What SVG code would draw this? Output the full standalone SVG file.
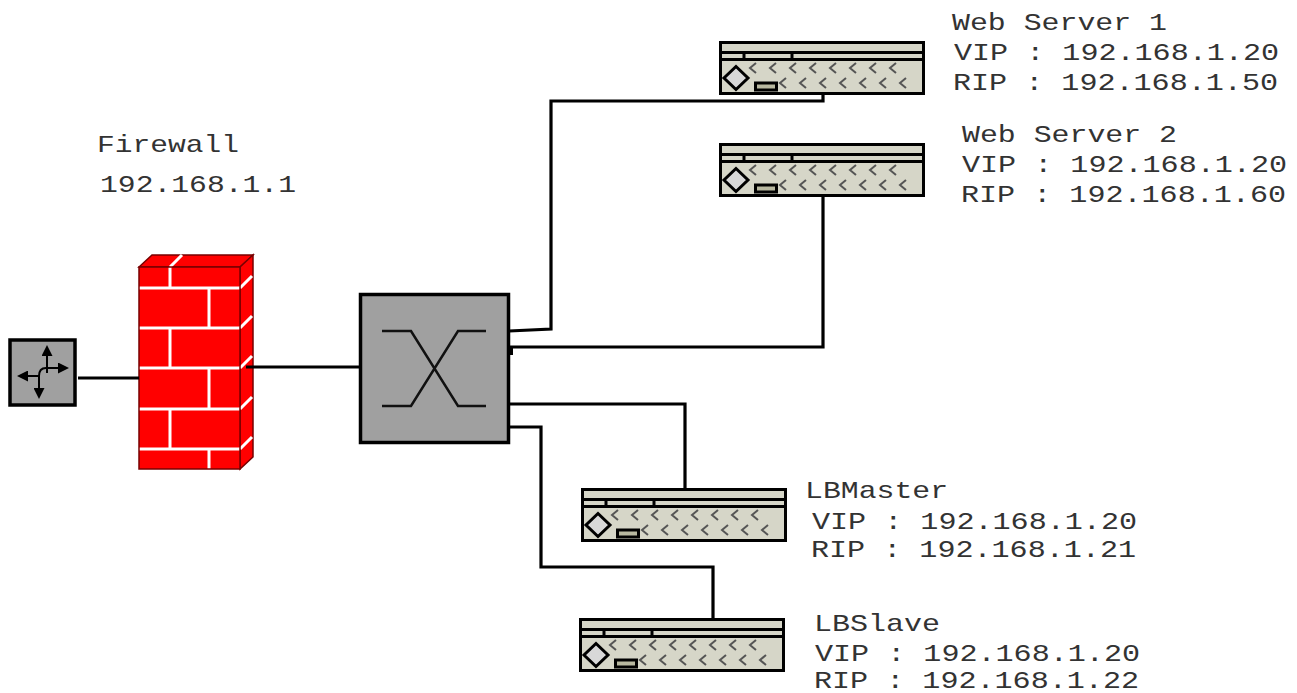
<svg xmlns="http://www.w3.org/2000/svg" xmlns:xlink="http://www.w3.org/1999/xlink" width="1297" height="693" viewBox="0 0 1297 693">
<style>
text{font-family:"Liberation Mono","Courier New",monospace;font-size:24px;fill:#333}
.c{fill:none;stroke:#000;stroke-width:3.2}
.g{fill:#a0a0a0;stroke:#000}
.b{stroke:#fff;stroke-width:3;fill:none}
.ch{fill:none;stroke:#555;stroke-width:2}
</style>
<defs>
<path id="chev" d="M6 -5L0 0L6 5"/>
<marker id="ah" markerWidth="5.500" markerHeight="5.500" refX="1" refY="2.750" orient="auto"><path d="M0 0L5.500 2.750L0 5.500Z" fill="#000"/></marker>
<g id="server">
<rect x="1.5" y="1.5" width="203" height="51" fill="#d6d6c8" stroke="#000" stroke-width="3"/>
<path d="M0 11.5H205M0 18.500H205" stroke="#000" stroke-width="3" fill="none"/>
<path d="M25 11V18M73 11V18" stroke="#000" stroke-width="3"/>
<path d="M17 25.500L29 37L17 48.500L5 37Z" fill="#d8d8d8" stroke="#000" stroke-width="3"/>
<rect x="36.500" y="42" width="21" height="7" fill="#b8b8a0" stroke="#000" stroke-width="3"/>
<g class="ch">
<use href="#chev" x="31" y="27"/><use href="#chev" x="51" y="27"/><use href="#chev" x="71" y="27"/><use href="#chev" x="91" y="27"/><use href="#chev" x="111" y="27"/><use href="#chev" x="131" y="27"/><use href="#chev" x="151" y="27"/><use href="#chev" x="171" y="27"/>
<use href="#chev" x="61" y="42"/><use href="#chev" x="81" y="42"/><use href="#chev" x="101" y="42"/><use href="#chev" x="121" y="42"/><use href="#chev" x="141" y="42"/><use href="#chev" x="161" y="42"/><use href="#chev" x="181" y="42"/>
</g>
</g>
</defs>
<g id="router">
<rect class="g" x="10" y="340" width="65" height="65" stroke-width="3.500"/>
<g fill="none" stroke="#000" stroke-width="2">
<path d="M47 373V354" marker-end="url(#ah)"/>
<path d="M40 376H26" marker-end="url(#ah)"/>
<path d="M39 383V390" marker-end="url(#ah)"/>
<path d="M39 383V376Q39 368 46 368H60" marker-end="url(#ah)"/>
</g>
</g>
<g id="firewall">
<path d="M139 267L152 255H253L240 267Z" fill="#f00" stroke="#700" stroke-width="1.500"/>
<path d="M240 267L253 255V457L240 469Z" fill="#f00" stroke="#700" stroke-width="1.500"/>
<rect x="139" y="267" width="101" height="202" fill="#f00"/>
<path class="b" d="M139 288H240M139 328H240M139 368H240M139 409H240M139 449H240M170 267V288M170 328V368M170 409V449M209 288V328M209 368V409M209 449V469M170 267L182 255M240 288L252 276M240 328L252 316M240 368L252 356M240 409L252 397M240 449L252 437"/>
<rect x="139" y="267" width="101" height="202" fill="none" stroke="#700" stroke-width="1.500"/>
</g>
<g id="switch">
<rect class="g" x="360.500" y="294.500" width="148" height="148" stroke-width="3.500"/>
<path d="M382 331H411L458 406H486M382 406H411L458 331H486" fill="none" stroke="#111" stroke-width="2.500"/>
</g>
<g id="web-server-1"><use href="#server" x="719" y="41"/></g>
<g id="web-server-2"><use href="#server" x="719" y="143"/></g>
<g id="lbmaster"><use href="#server" x="581" y="488"/></g>
<g id="lbslave"><use href="#server" x="579" y="618"/></g>
<g id="connectors">
<path class="c" d="M78 378H139"/>
<path class="c" d="M246 367H360"/>
<path class="c" d="M509 331L551 329V101H823V95"/>
<path class="c" d="M509 347H823V196"/>
<path d="M511 347V355" stroke="#000" stroke-width="4"/>
<path class="c" d="M509 404H685V488"/>
<path class="c" d="M509 427H541V567H713V618"/>
</g>
<g id="labels">
<text x="97" y="152" textLength="142" lengthAdjust="spacingAndGlyphs">Firewall</text>
<text x="100" y="192" textLength="196" lengthAdjust="spacingAndGlyphs">192.168.1.1</text>
<text x="952" y="30" textLength="215" lengthAdjust="spacingAndGlyphs">Web Server 1</text>
<text x="954" y="60" textLength="325" lengthAdjust="spacingAndGlyphs">VIP : 192.168.1.20</text>
<text x="953" y="90" textLength="325" lengthAdjust="spacingAndGlyphs">RIP : 192.168.1.50</text>
<text x="962" y="142" textLength="215" lengthAdjust="spacingAndGlyphs">Web Server 2</text>
<text x="962" y="172" textLength="325" lengthAdjust="spacingAndGlyphs">VIP : 192.168.1.20</text>
<text x="961" y="202" textLength="325" lengthAdjust="spacingAndGlyphs">RIP : 192.168.1.60</text>
<text x="805" y="498" textLength="143" lengthAdjust="spacingAndGlyphs">LBMaster</text>
<text x="812" y="529" textLength="325" lengthAdjust="spacingAndGlyphs">VIP : 192.168.1.20</text>
<text x="811" y="557" textLength="325" lengthAdjust="spacingAndGlyphs">RIP : 192.168.1.21</text>
<text x="814" y="631" textLength="126" lengthAdjust="spacingAndGlyphs">LBSlave</text>
<text x="815" y="661" textLength="325" lengthAdjust="spacingAndGlyphs">VIP : 192.168.1.20</text>
<text x="814" y="688" textLength="325" lengthAdjust="spacingAndGlyphs">RIP : 192.168.1.22</text>
</g>
</svg>
